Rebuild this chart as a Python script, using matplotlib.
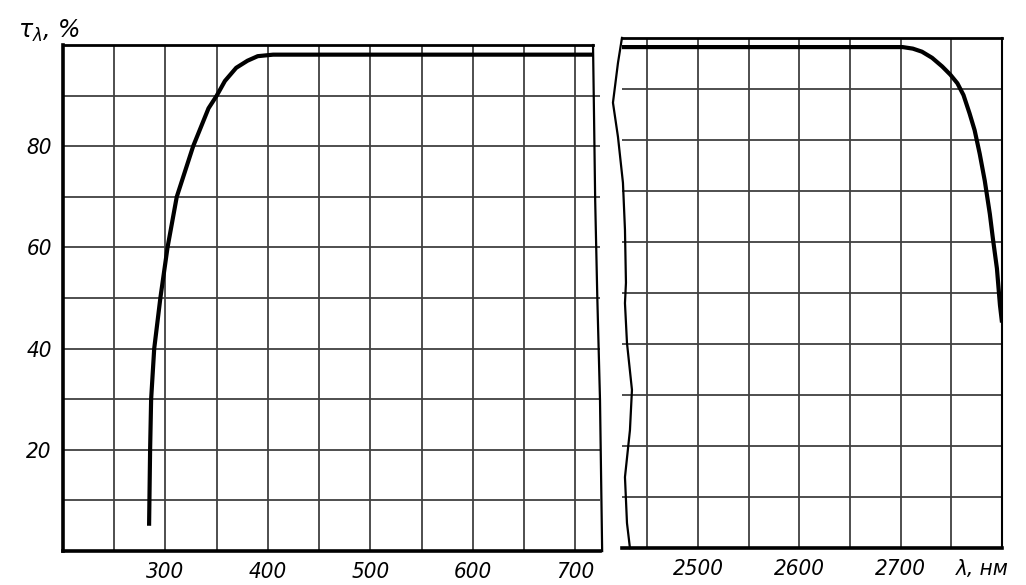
import numpy as np
import matplotlib.pyplot as plt

# transmission curve
left_wl = [284, 285, 286, 289, 295, 302, 311, 327, 342, 350, 358, 369, 380, 390, 405, 718]
left_tau = [5, 20, 30, 40, 50, 60, 70, 80, 87.5, 90, 92.9, 95.5, 96.9, 97.8, 98.1, 98.1]

right_wl = [2425, 2702, 2712, 2721, 2731, 2741, 2749, 2756, 2762, 2768, 2773,
            2778, 2783, 2788, 2791, 2795, 2798, 2800]
right_tau = [98.2, 98.2, 97.9, 97.3, 96.1, 94.4, 92.8, 91.1, 88.8, 85.2, 81.9,
             77.3, 72.0, 65.5, 60.7, 54.8, 47.6, 44.2]

left_xlim = (200, 724)
right_xlim = (2425, 2800)
left_grid_x = np.arange(250, 724, 50)
right_grid_x = np.arange(2450, 2800, 50)
grid_y = np.arange(10, 100, 10)
left_ticks = [300, 400, 500, 600, 700]
right_ticks = [2500, 2600, 2700]
y_ticks = [20, 40, 60, 80]

# torn edges of the two paper pieces (axes fractions)
left_edge_x = [0.987, 0.989, 0.991, 0.995, 1.0, 1.004]
left_edge_y = [1.0, 0.85, 0.694, 0.5, 0.298, 0.0]
right_edge_x = [0.0, -0.0105, -0.0237, -0.0105, 0.0026, 0.0079, 0.0105, 0.0079,
                0.0132, 0.0263, 0.021, 0.0079, 0.0132, 0.021]
right_edge_y = [1.0, 0.951, 0.873, 0.806, 0.716, 0.624, 0.520, 0.480,
                0.402, 0.310, 0.231, 0.139, 0.049, 0.0]

font = dict(family='DejaVu Sans', style='italic', stretch='condensed', size=16)
gcol = '#404040'

fig = plt.figure(figsize=(10.26, 5.85), dpi=100)
axL = fig.add_axes([0.0614, 0.058, 0.5234, 0.865])
axR = fig.add_axes([0.6062, 0.0632, 0.3704, 0.872])

for ax, xl, gx in [(axL, left_xlim, left_grid_x), (axR, right_xlim, right_grid_x)]:
    ax.set_xlim(*xl)
    ax.set_ylim(0, 100)
    for v in gx:
        ax.axvline(v, color=gcol, lw=1.3, zorder=1)
    for v in grid_y:
        ax.axhline(v, color=gcol, lw=1.3, zorder=1)
    ax.tick_params(length=0, pad=8)
    ax.spines['top'].set_linewidth(2.0)
    ax.spines['bottom'].set_linewidth(2.6)
    ax.spines['right'].set_visible(False)
    ax.spines['left'].set_visible(False)

axL.spines['left'].set_visible(True)
axL.spines['left'].set_linewidth(2.6)
axL.spines['top'].set_bounds(left_xlim[0], left_xlim[0] + 0.987 * (left_xlim[1] - left_xlim[0]))
axR.spines['right'].set_visible(True)
axR.spines['right'].set_linewidth(1.5)

axL.plot(left_wl, left_tau, color='black', lw=3.0, zorder=3, solid_capstyle='butt')
axR.plot(right_wl, right_tau, color='black', lw=3.0, zorder=3, solid_capstyle='butt')

axL.plot(left_edge_x, left_edge_y, transform=axL.transAxes, color='black',
         lw=1.6, clip_on=False)
axR.plot(right_edge_x, right_edge_y, transform=axR.transAxes, color='black',
         lw=1.6, clip_on=False)

axL.set_xticks(left_ticks)
axL.set_xticklabels([str(t) for t in left_ticks], **font)
axL.set_yticks(y_ticks)
axL.set_yticklabels([str(t) for t in y_ticks], **font)
axR.set_xticks(right_ticks)
axR.set_xticklabels([str(t) for t in right_ticks], **font)
axR.set_yticks([])

fig.text(0.018, 0.935, r'$\tau_{\lambda}$, %', fontsize=17, style='italic')
fig.text(0.932, 0.028, 'λ, нм', ha='left', va='center', **font)

fig.savefig('out.png', dpi=100)
